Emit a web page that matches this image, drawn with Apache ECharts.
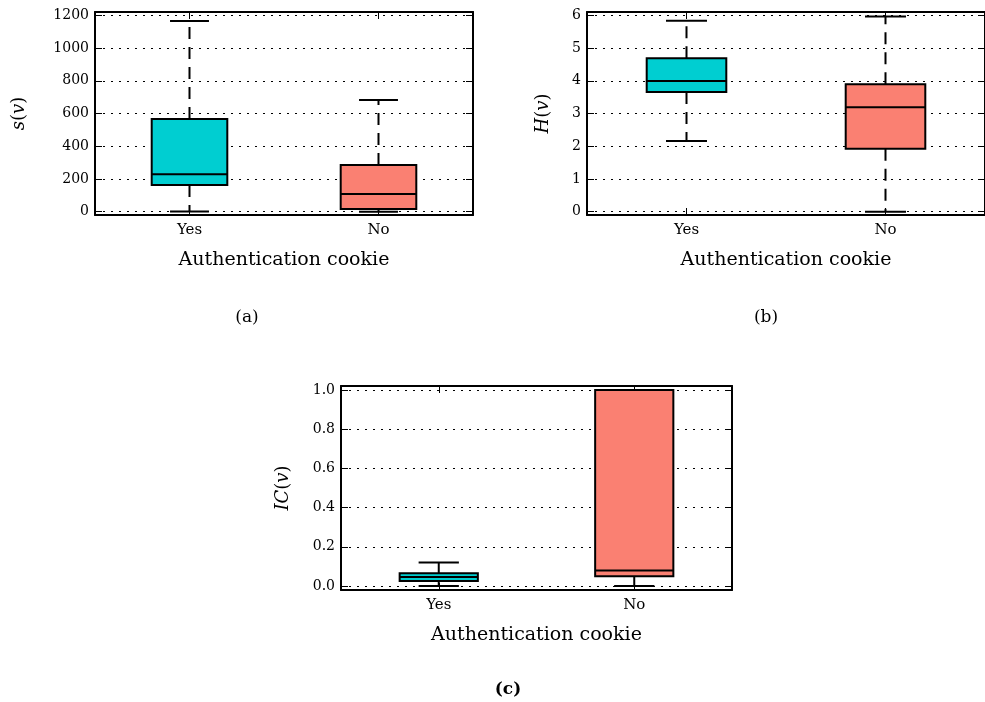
<!DOCTYPE html>
<html>
<head>
<meta charset="utf-8">
<script src="https://cdn.jsdelivr.net/npm/echarts@6/dist/echarts.min.js"></script>
<style>
html, body { margin: 0; padding: 0; background: #fff; }
#chart { width: 985px; height: 702px; }
</style>
</head>
<body>
<div id="chart"></div>
<script>
// 三个箱线图：(a) s(v)，(b) H(v)，(c) IC(v)，按是否有认证 cookie 分组。
// 须线用虚线、端线用实线，所以用 custom series 自己画箱体。

const categories = ['Yes', 'No'];
const boxColors = ['#00CED1', '#FA8072'];

// 每组：[下须, Q1, 中位数, Q3, 上须]
const sizeStats = [[2, 164, 229, 566, 1165], [0, 16, 108, 286, 683]];
const entropyStats = [[2.16, 3.66, 3.99, 4.69, 5.83], [0, 1.92, 3.19, 3.89, 5.96]];
const icStats = [[0, 0.026, 0.046, 0.065, 0.12], [0, 0.05, 0.08, 1.0, 1.0]];

const sizeTicks = [0, 200, 400, 600, 800, 1000, 1200];
const entropyTicks = [0, 1, 2, 3, 4, 5, 6];
const icTicks = [0, 0.2, 0.4, 0.6, 0.8, 1.0];

const FONT = 'DejaVu Serif';

const panels = [
  { stats: sizeStats, ticks: sizeTicks, min: -20, max: 1220, name: '{i|s}({i|v})', nameGap: 67, digits: 0,
    grid: { left: 95, top: 12, width: 378, height: 203 } },
  { stats: entropyStats, ticks: entropyTicks, min: -0.1, max: 6.1, name: '{i|H}({i|v})', nameGap: 35, digits: 0,
    grid: { left: 587, top: 12, width: 404, height: 203 } },
  { stats: icStats, ticks: icTicks, min: -0.02, max: 1.02, name: '{i|IC}({i|v})', nameGap: 49, digits: 1,
    grid: { left: 341, top: 386, width: 391, height: 204 } },
]

function line(x1, y1, x2, y2, dash) {
  const style = { stroke: '#000', lineWidth: 2 };
  if (dash) style.lineDash = dash;
  return { type: 'line', shape: { x1, y1, x2, y2 }, style };
}

function renderBox(params, api) {
  const x = api.value(0);
  const band = api.size([1, 0])[0];
  const boxHalf = band * 0.2;
  const capHalf = band * 0.103;
  const [cx, yLow] = api.coord([x, api.value(1)]);
  const yQ1 = api.coord([x, api.value(2)])[1];
  const yMed = api.coord([x, api.value(3)])[1];
  const yQ3 = api.coord([x, api.value(4)])[1];
  const yHigh = api.coord([x, api.value(5)])[1];
  return {
    type: 'group',
    children: [
      line(cx, yQ3, cx, yHigh, [12, 8]),
      line(cx, yQ1, cx, yLow, [12, 8]),
      line(cx - capHalf, yHigh, cx + capHalf, yHigh),
      line(cx - capHalf, yLow, cx + capHalf, yLow),
      {
        type: 'rect',
        shape: { x: cx - boxHalf, y: yQ3, width: boxHalf * 2, height: yQ1 - yQ3 },
        style: { fill: boxColors[params.dataIndex], stroke: '#000', lineWidth: 2 },
      },
      line(cx - boxHalf, yMed, cx + boxHalf, yMed),
    ],
  };
}

const grid = [];
const xAxis = [];
const yAxis = [];
const series = [];

panels.forEach((p, i) => {
  grid.push(p.grid);
  const frame = { show: true, onZero: false, lineStyle: { color: '#000', width: 2 } };
  const tick = { show: true, inside: true, length: 7, lineStyle: { color: '#000', width: 1 } };
  xAxis.push({
    type: 'category', gridIndex: i, data: categories, position: 'bottom',
    axisLine: frame, axisTick: { ...tick, alignWithLabel: true },
    axisLabel: { color: '#000', fontFamily: FONT, fontSize: 15, margin: 8 },
    name: 'Authentication cookie', nameLocation: 'middle', nameGap: 36,
    nameTextStyle: { color: '#000', fontFamily: FONT, fontSize: 19 },
    splitLine: { show: false },
  });
  xAxis.push({
    type: 'category', gridIndex: i, data: categories, position: 'top',
    axisLine: frame, axisTick: { ...tick, alignWithLabel: true },
    axisLabel: { show: false }, splitLine: { show: false },
  });
  const yBase = {
    type: 'value', gridIndex: i, min: p.min, max: p.max,
    axisLine: frame,
    axisTick: { ...tick, customValues: p.ticks },
  };
  yAxis.push({
    ...yBase, position: 'left',
    axisLabel: {
      color: '#000', fontFamily: FONT, fontSize: 14, margin: 6,
      customValues: p.ticks,
      formatter: (v) => Number(v).toFixed(p.digits),
    },
    splitLine: { show: true, lineStyle: { color: '#000', width: 1, type: [2, 6] } },
    name: p.name, nameLocation: 'middle', nameGap: p.nameGap,
    nameTextStyle: {
      color: '#000', fontFamily: FONT, fontSize: 18,
      rich: { i: { fontFamily: FONT, fontStyle: 'italic', fontSize: 18, color: '#000' } },
    },
  });
  yAxis.push({
    ...yBase, position: 'right',
    axisLabel: { show: false }, splitLine: { show: false },
  });
  series.push({
    type: 'custom',
    xAxisIndex: i * 2,
    yAxisIndex: i * 2,
    renderItem: renderBox,
    encode: { x: 0, y: [1, 2, 3, 4, 5] },
    data: p.stats.map((s, k) => [k, ...s]),
    z: 3,
  });
});

const subLabels = [
  { text: '(a)', x: 247, y: 318, weight: 'normal' },
  { text: '(b)', x: 766, y: 318, weight: 'normal' },
  { text: '(c)', x: 508, y: 690, weight: 'bold' },
];

const chart = echarts.init(document.getElementById('chart'), null, { renderer: 'canvas' });
chart.setOption({
  backgroundColor: '#fff',
  animation: false,
  grid,
  xAxis,
  yAxis,
  series,
  graphic: subLabels.map((l) => ({
    type: 'text', x: l.x, y: l.y,
    style: {
      text: l.text, fill: '#000', align: 'center', verticalAlign: 'middle',
      font: `${l.weight} 17px "${FONT}"`,
    },
  })),
});
</script>
</body>
</html>
